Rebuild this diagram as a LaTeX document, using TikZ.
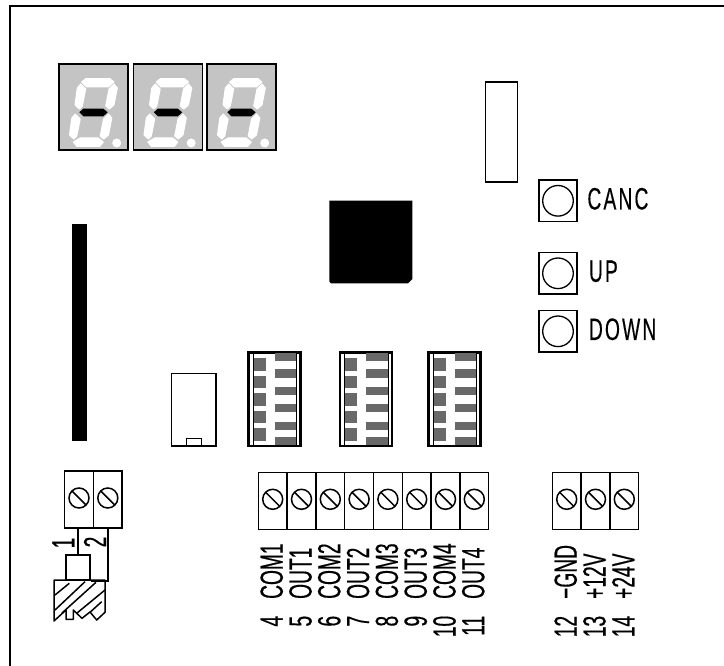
\documentclass[tikz,border=0pt]{standalone}
\usepackage{fontspec}
\setmainfont[FakeStretch=0.6,FakeBold=0.4]{Liberation Sans}
\newfontfamily\keyfont[FakeStretch=0.62,FakeBold=0.3,LetterSpace=7]{Liberation Sans}
\usetikzlibrary{positioning, shapes.geometric}
\definecolor{displaygray}{HTML}{C4C4C4}
\definecolor{switchgray}{HTML}{696969}
\newcommand{\pintext}[2]{\makebox[27pt][r]{#1}\hspace{17pt}#2}
\tikzset{
  display/.style={rectangle, draw, line width=1.3pt, fill=displaygray, minimum width=69pt, minimum height=86pt, inner sep=0pt},
  segment/.style={fill=white, draw=white, line width=1pt, line join=round},
  terminal/.style={
    rectangle, draw, line width=1.5pt, minimum width=28.8pt, minimum height=57pt, inner sep=0pt,
    path picture={
      \draw[line width=1.5pt] ([yshift=1.5pt]path picture bounding box.center) circle [radius=10pt];
      \draw[line width=1.5pt] ([yshift=1.5pt]path picture bounding box.center) ++(-7pt,7pt) -- ++(14pt,-14pt);
    }},
  pushkey/.style={
    rectangle, draw, line width=1.5pt, minimum width=38pt, minimum height=41.5pt, inner sep=0pt,
    path picture={\draw[line width=1.3pt] (path picture bounding box.center) circle [radius=15.3pt];}},
  keylabel/.style={inner sep=0pt, yshift=2pt, font=\fontsize{31}{31}\keyfont},
  pinlabel/.style={xshift=-1pt, yshift=-113pt, rotate=90, anchor=west, inner sep=0pt, font=\fontsize{32}{32}\selectfont},
  wirelabel/.style={rotate=90, inner sep=0pt, font=\fontsize{32}{32}\selectfont},
  dipframe/.style={rectangle, draw, line width=2.4pt, minimum width=52pt, minimum height=93.5pt, inner sep=0pt},
}

\begin{document}
\begin{tikzpicture}[x=1pt, y=-1pt, node distance=28.8pt]
  \useasboundingbox (0,0) rectangle (724,666);

  % board edge
  \draw[line width=2.6pt] (10,666)--(10,6)--(724,6);

  % displays
  \foreach \x/\name in {93.5/d1, 168/d2, 241.5/d3} {
    \node[display] (\name) at (\x,107) {};
    \begin{scope}[shift={([xshift=-34.5pt,yshift=43pt]\name.center)}]
      \path[segment] (22.7,18)--(26.7,14.7)--(51,14.7)--(55,18)--(49.3,23)--(27.7,23)--cycle;
      \path[segment] (21.7,20)--(26.7,25)--(23.3,42)--(20.3,45)--(16,41)--(18.3,24)--cycle;
      \path[segment] (55,20)--(58.3,24)--(55,41)--(50.3,45)--(46.7,42)--(50,25)--cycle;
      \path[segment] (16.2,50)--(21.2,55)--(17.8,72)--(14.8,75)--(10.5,71)--(12.8,54)--cycle;
      \path[segment] (49.5,50)--(52.8,54)--(49.5,71)--(44.8,75)--(41.2,72)--(44.5,55)--cycle;
      \path[segment] (14.3,78)--(21,74)--(39.3,74)--(44.3,78)--(41,82.3)--(17.7,82.3)--cycle;
      \fill[white] (57.7,79) circle [radius=4.5];
      \fill[black] (20.3,48.3)--(24.3,44.7)--(44.3,44.7)--(48.7,48.3)--(44.3,52.3)--(24.3,52.3)--cycle;
    \end{scope}
  }

  % header, chip and bar
  \node[rectangle, draw, line width=1.5pt, minimum width=32pt, minimum height=100pt] (header) at (501.5,132) {};
  \fill[black] (329.3,200.7)--(412.3,200.7)--(412.3,279)--(408,283.3)--(331,283.3)--(329.3,281.5)--cycle;
  \node[rectangle, fill=black, minimum width=15pt, minimum height=217pt, inner sep=0pt] (bar) at (79.5,332.5) {};

  % keys
  \node[pushkey] (canc) at (558,200.8) {};
  \node[pushkey] (up) at (558,273.3) {};
  \node[pushkey] (down) at (558,331.3) {};
  \node[keylabel, right=9.5pt of canc] (canctext) {CANC};
  \node[keylabel, right=11pt of up] (uptext) {UP};
  \node[keylabel, right=11pt of down] (downtext) {DOWN};

  % socket
  \node[rectangle, draw, line width=1.5pt, minimum width=44.5pt, minimum height=72.7pt, inner sep=0pt] (socket) at (193.8,409.7) {};
  \node[rectangle, draw, line width=1.3pt, minimum width=15pt, minimum height=7.7pt, inner sep=0pt, anchor=south] (notch) at (socket.south) {};

  % dip switches
  \foreach \x/\name in {274.5/s1, 365.8/s2, 454.5/s3} {
    \node[dipframe] (\name) at (\x,399.2) {};
    \begin{scope}[shift={([xshift=-26pt,yshift=46.8pt]\name.center)}]
      \foreach \a/\b in {6/18.4, 23.4/35.4, 41/53.4, 58.7/70.7, 75.4/88.4}
        \fill[switchgray] (5,\a) rectangle (17,\b);
      \foreach \a/\b in {1/8.4, 16.7/25.4, 34.4/42.4, 52/60, 69.4/77.7, 85/93}
        \fill[switchgray] (26.4,\a) rectangle (47.7,\b);
      \draw[line width=.9pt] (5,0)--(5,93.5);
      \draw[line width=.9pt] (48.4,0)--(48.4,93.5);
    \end{scope}
  }

  % terminals
  \node[terminal] (t1) at (79,499.5) {};
  \node[terminal, right of=t1] (t2) {};

  \node[terminal] (t4) at (272.7,500.8) {};
  \node[terminal, right of=t4] (t5) {};
  \node[terminal, right of=t5] (t6) {};
  \node[terminal, right of=t6] (t7) {};
  \node[terminal, right of=t7] (t8) {};
  \node[terminal, right of=t8] (t9) {};
  \node[terminal, right of=t9] (t10) {};
  \node[terminal, right of=t10] (t11) {};

  \node[terminal] (t12) at (566.7,500.8) {};
  \node[terminal, right of=t12] (t13) {};
  \node[terminal, right of=t13] (t14) {};

  \node[pinlabel] (p4) at (t4.south) {\pintext{4}{COM1}};
  \node[pinlabel] (p5) at (t5.south) {\pintext{5}{OUT1}};
  \node[pinlabel] (p6) at (t6.south) {\pintext{6}{COM2}};
  \node[pinlabel] (p7) at (t7.south) {\pintext{7}{OUT2}};
  \node[pinlabel] (p8) at (t8.south) {\pintext{8}{COM3}};
  \node[pinlabel] (p9) at (t9.south) {\pintext{9}{OUT3}};
  \node[pinlabel] (p10) at (t10.south) {\pintext{10}{COM4}};
  \node[pinlabel] (p11) at (t11.south) {\pintext{11}{OUT4}};
  \node[pinlabel] (p12) at (t12.south) {\pintext{12}{−GND}};
  \node[pinlabel] (p13) at (t13.south) {\pintext{13}{+12V}};
  \node[pinlabel] (p14) at (t14.south) {\pintext{14}{+24V}};

  % plug
  \node[rectangle, draw, line width=1.5pt, minimum width=24pt, minimum height=25pt, inner sep=0pt] (plug) at (78,567.5) {};
  \node[wirelabel] (w1) at (63.3,543) {1};
  \node[wirelabel] (w2) at (95,542) {2};
  \draw[line width=1.5pt] (plug.north |- t1.south) -- (plug.north);
  \draw[line width=1.5pt] (t2.south) -- (t2.south |- plug.south) -- (plug.south east);

  \draw[line width=1.5pt, line join=round] (54,580)--(105,580)--(105,612.3)--(96.7,620)--(90,612)--(82,618.3)--(73.3,610)
    --(73.3,619.3)--(66,619.3)--(66,610)--(54,621)--cycle;
  \draw[line width=1.5pt] (55,595)--(69.3,583.3);
  \draw[line width=1.5pt] (55,610)--(85,581.7);
  \draw[line width=1.5pt] (62,613)--(96,582.3);
  \draw[line width=1.5pt] (76.7,613.3)--(105,590);
  \draw[line width=1.5pt] (90,612.3)--(101.7,601.7);
\end{tikzpicture}
\end{document}
